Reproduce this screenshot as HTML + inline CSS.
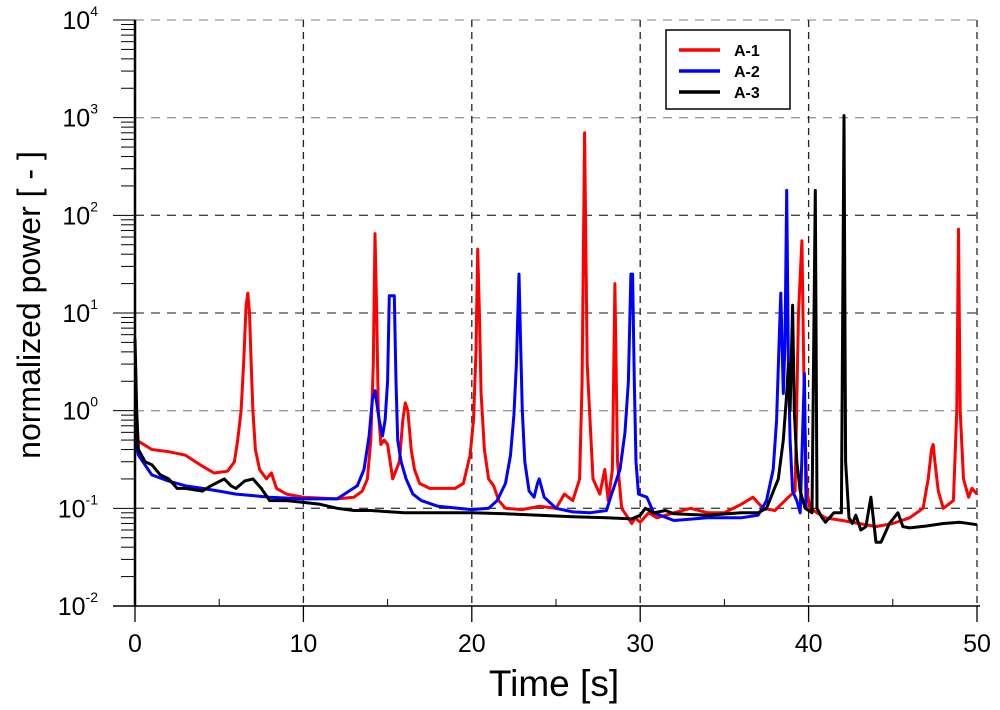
<!DOCTYPE html>
<html><head><meta charset="utf-8"><style>
body{margin:0;background:#fff;}
svg{display:block;font-family:"Liberation Sans",Arial,sans-serif;}
</style></head><body>
<svg id="chart" width="1000" height="710" viewBox="0 0 1000 710"></svg>
<script>
const xTicks=[0,10,20,30,40,50];
const yExps=[-2,-1,0,1,2,3,4];
const seriesNames=["A-1","A-2","A-3"];
const seriesColors=["#ff0000","#0000ff","#000000"];
const a1T=[0,0.1,1,2,3,4,4.7,5.5,5.9,6.1,6.3,6.45,6.6,6.7,6.8,6.9,7.0,7.15,7.4,7.8,8.1,8.4,9,10,12,13,13.5,13.8,14.0,14.15,14.25,14.35,14.45,14.6,14.8,15,15.3,15.7,15.9,16.05,16.2,16.4,16.6,16.9,17.5,19,19.5,19.9,20.1,20.25,20.35,20.45,20.55,20.75,21,21.3,21.6,22,23,24,25,25.5,26,26.4,26.55,26.7,26.85,27.2,27.6,27.9,28.1,28.35,28.5,28.65,28.9,29.5,29.7,30,30.5,31,32,33,34,35,36,36.7,37.3,38,38.8,39.2,39.4,39.6,39.75,39.9,40.1,40.5,41,42,43,44,45,46,46.8,47.1,47.3,47.4,47.5,47.7,48,48.6,48.8,48.9,49.0,49.2,49.5,49.7,50];
const a1V=[1.0,0.5,0.4,0.38,0.35,0.27,0.23,0.24,0.3,0.5,1.0,3,12,16,10,3,1,0.4,0.25,0.2,0.23,0.16,0.14,0.13,0.125,0.13,0.15,0.2,0.5,3,65,10,1,0.45,0.5,0.45,0.2,0.3,0.8,1.2,1,0.4,0.25,0.18,0.16,0.16,0.18,0.35,0.8,4,45,10,1.5,0.4,0.2,0.17,0.12,0.1,0.097,0.105,0.1,0.14,0.12,0.2,2,700,3,0.2,0.14,0.25,0.12,0.25,20,0.3,0.1,0.07,0.08,0.072,0.09,0.08,0.09,0.1,0.09,0.09,0.11,0.13,0.1,0.095,0.13,0.15,10,55,1,0.15,0.1,0.09,0.08,0.075,0.07,0.065,0.07,0.08,0.1,0.2,0.4,0.45,0.3,0.15,0.1,0.12,1,72,1,0.2,0.13,0.16,0.14];
const a2T=[0,0.2,1,2,3,4,5,6,7,8,10,12,13.2,13.6,13.9,14.1,14.25,14.5,14.7,14.85,15.0,15.1,15.4,15.5,15.6,15.8,16.1,16.5,17,18,20,21,21.5,22,22.3,22.5,22.65,22.8,22.9,23,23.15,23.4,23.7,23.9,24,24.3,25,26,27,28,28.3,28.8,29.1,29.3,29.45,29.55,29.65,29.75,29.9,30.4,30.8,32,34,36,37,37.5,37.9,38.1,38.25,38.35,38.5,38.6,38.7,38.8,38.9,39.05,39.3,39.5,39.75,39.85];
const a2V=[0.5,0.35,0.22,0.19,0.17,0.16,0.15,0.14,0.135,0.13,0.125,0.125,0.17,0.25,0.55,1.3,1.6,0.8,0.55,0.8,2,15,15,2,0.5,0.3,0.2,0.14,0.12,0.105,0.097,0.1,0.12,0.18,0.35,0.9,3,25,5,1,0.3,0.15,0.13,0.18,0.2,0.13,0.1,0.092,0.09,0.095,0.14,0.25,0.6,2,25,25,2,0.3,0.14,0.13,0.09,0.075,0.08,0.08,0.085,0.12,0.25,0.8,5,16,1.5,5,180,3,0.5,0.15,0.12,0.09,2.4,0.1];
const a3T=[0,0.1,0.2,0.6,1,1.5,2,2.5,3,4,4.5,5.3,5.7,6,6.5,7,7.5,8,9,10,11,12,13,14,16,18,20,22,24,26,28,29.5,30,30.3,30.8,31.5,32,34,36,37,37.5,38.2,38.5,38.7,38.8,38.9,39.05,39.15,39.3,39.5,39.8,40.2,40.4,40.5,40.8,41,41.5,41.95,42.1,42.2,42.4,42.6,42.8,43.1,43.4,43.7,44,44.3,44.8,45.3,45.6,46,47,48,49,50];
const a3V=[5.5,1,0.4,0.3,0.28,0.22,0.2,0.16,0.16,0.15,0.17,0.2,0.17,0.16,0.19,0.2,0.16,0.12,0.12,0.115,0.11,0.1,0.095,0.095,0.09,0.09,0.09,0.088,0.085,0.082,0.08,0.078,0.085,0.1,0.09,0.095,0.088,0.085,0.09,0.09,0.1,0.2,0.5,1.5,3,1,12,1,0.3,0.15,0.1,0.09,180,0.1,0.08,0.072,0.09,0.09,1050,0.3,0.08,0.07,0.085,0.06,0.065,0.13,0.045,0.045,0.07,0.09,0.065,0.063,0.066,0.07,0.072,0.068];

const NS="http://www.w3.org/2000/svg";
const svg=document.getElementById("chart");
const X0=135,X1=977,YTOP=20,YBOT=606;
const xs=t=>X0+(t-0)/(50-0)*(X1-X0);
const ys=v=>YBOT-(Math.log10(v)+2)/6*(YBOT-YTOP);
function mk(tag,attrs,parent){const e=document.createElementNS(NS,tag);for(const k in attrs)e.setAttribute(k,attrs[k]);(parent||svg).appendChild(e);return e;}

yExps.forEach(p=>{
  if(p===-2)return;
  const y=ys(Math.pow(10,p));
  const g=mk("line",{x1:X0,x2:X1,y1:y,y2:y,stroke:p>=3||p===0?"#999":"#444","stroke-width":1.3,"stroke-dasharray":"9,7"});
  
  
});
xTicks.forEach(t=>{
  if(t===0)return;
  const x=xs(t);
  const g=mk("line",{x1:x,x2:x,y1:YTOP,y2:YBOT,stroke:"#222","stroke-width":1.3,"stroke-dasharray":"7,5"});
  
  
});
const allT=[a1T,a2T,a3T],allV=[a1V,a2V,a3V];
seriesNames.forEach((n,i)=>{
  const d=allT[i].map((t,j)=>(j?"L":"M")+xs(t).toFixed(1)+","+ys(allV[i][j]).toFixed(1)).join("");
  const p=mk("path",{d:d,fill:"none",stroke:seriesColors[i],"stroke-width":3,"stroke-linejoin":"round"});
  
  
});
const ax=mk("line",{x1:X0,x2:X0,y1:YTOP,y2:YBOT+1,stroke:"#000","stroke-width":2.5});


const bx=mk("line",{x1:113,x2:X1+3,y1:YBOT,y2:YBOT,stroke:"#000","stroke-width":1.5});


yExps.forEach(p=>{
  const y=ys(Math.pow(10,p));
  mk("line",{x1:113,x2:X0,y1:y,y2:y,stroke:"#000","stroke-width":1});
  if(p<4){for(let m=2;m<=9;m++){const yy=ys(m*Math.pow(10,p));mk("line",{x1:121,x2:X0,y1:yy,y2:yy,stroke:"#000","stroke-width":1});}}
  const tx=mk("text",{x:98,y:y+9,"text-anchor":"end","font-size":25});
  tx.textContent="10";
  const sp=mk("tspan",{dy:-13,"font-size":14});sp.textContent=String(p);tx.appendChild(sp);
  
  
});
xTicks.forEach(t=>{
  const x=xs(t);
  mk("line",{x1:x,x2:x,y1:YBOT,y2:YBOT+16,stroke:"#000","stroke-width":1.3});
  const tx=mk("text",{x:x,y:652,"text-anchor":"middle","font-size":25});
  tx.textContent=String(t);
  
  
});
[5,15,25,35,45].forEach(t=>mk("line",{x1:xs(t),x2:xs(t),y1:YBOT,y2:YBOT-7,stroke:"#000","stroke-width":1}));
const xt=mk("text",{x:554,y:696,"text-anchor":"middle","font-size":37});
xt.textContent="Time [s]";


const yt=mk("text",{x:0,y:0,"text-anchor":"middle","font-size":32,transform:"translate(40,305) rotate(-90)"});
yt.textContent="normalized power [ - ]";


const lg=mk("g",{});


mk("rect",{x:666,y:30,width:124,height:79,fill:"#fff",stroke:"#000","stroke-width":1.5},lg);
seriesNames.forEach((n,i)=>{
  const y=50+i*21;
  mk("line",{x1:679,x2:720,y1:y,y2:y,stroke:seriesColors[i],"stroke-width":3.5},lg);
  const t=mk("text",{x:734,y:y+6,"font-size":16,"font-weight":"bold"},lg);
  t.textContent=n;
  
  
});
</script>
</body></html>
